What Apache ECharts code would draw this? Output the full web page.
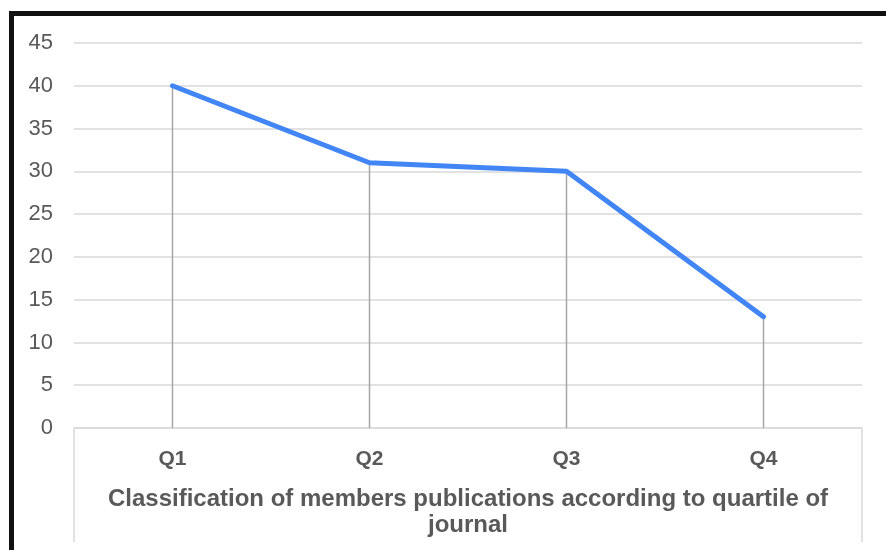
<!DOCTYPE html>
<html>
<head>
<meta charset="utf-8">
<script src="https://cdn.jsdelivr.net/npm/echarts@6/dist/echarts.min.js"></script>
<style>
  html, body { margin: 0; padding: 0; background: #fff; }
  #chart { position: absolute; left: 0; top: 0; width: 886px; height: 550px; }
  .frame-top { position: absolute; left: 9px; top: 11px; width: 877px; height: 5px; background: #111; }
  .frame-left { position: absolute; left: 9px; top: 11px; width: 5px; height: 539px; background: #111; }
</style>
</head>
<body>
<div id="chart"></div>
<div class="frame-top"></div>
<div class="frame-left"></div>
<script>
const quartiles = ['Q1', 'Q2', 'Q3', 'Q4'];
const publications = [40, 31, 30, 13];
const axisTitle = 'Classification of members publications according to quartile of\njournal';

const chart = echarts.init(document.getElementById('chart'));

chart.setOption({
  animation: false,
  backgroundColor: '#fff',
  textStyle: { fontFamily: 'Liberation Sans, Arial, sans-serif' },
  grid: {
    left: 74,
    right: 24,
    top: 43,
    bottom: 122
  },
  xAxis: {
    type: 'category',
    data: quartiles,
    boundaryGap: true,
    axisLine: { lineStyle: { color: '#d9d9d9', width: 1.5 } },
    // only the two outer edges get a (long) tick, like excel's label box
    axisTick: {
      show: true,
      interval: (i) => i === 0,
      length: 114,
      lineStyle: { color: '#d9d9d9', width: 1.5 }
    },
    axisLabel: {
      color: '#595959',
      fontSize: 21,
      fontWeight: 'bold',
      margin: 21
    },
    name: axisTitle,
    nameLocation: 'middle',
    nameGap: 58,
    nameTextStyle: {
      color: '#595959',
      fontSize: 24,
      fontWeight: 'bold',
      lineHeight: 26
    }
  },
  yAxis: {
    type: 'value',
    min: 0,
    max: 45,
    interval: 5,
    axisLine: { show: false },
    axisTick: { show: false },
    axisLabel: {
      color: '#595959',
      fontSize: 22,
      margin: 21
    },
    splitLine: { lineStyle: { color: '#d9d9d9', width: 1.5 } }
  },
  series: [
    {
      // drop lines
      type: 'bar',
      data: publications,
      barWidth: 1.5,
      itemStyle: { color: '#a6a6a6' },
      z: 1
    },
    {
      type: 'line',
      data: publications,
      symbol: 'none',
      lineStyle: { color: '#4285f4', width: 5, cap: 'round', join: 'round' },
      z: 3
    }
  ]
});
</script>
</body>
</html>
